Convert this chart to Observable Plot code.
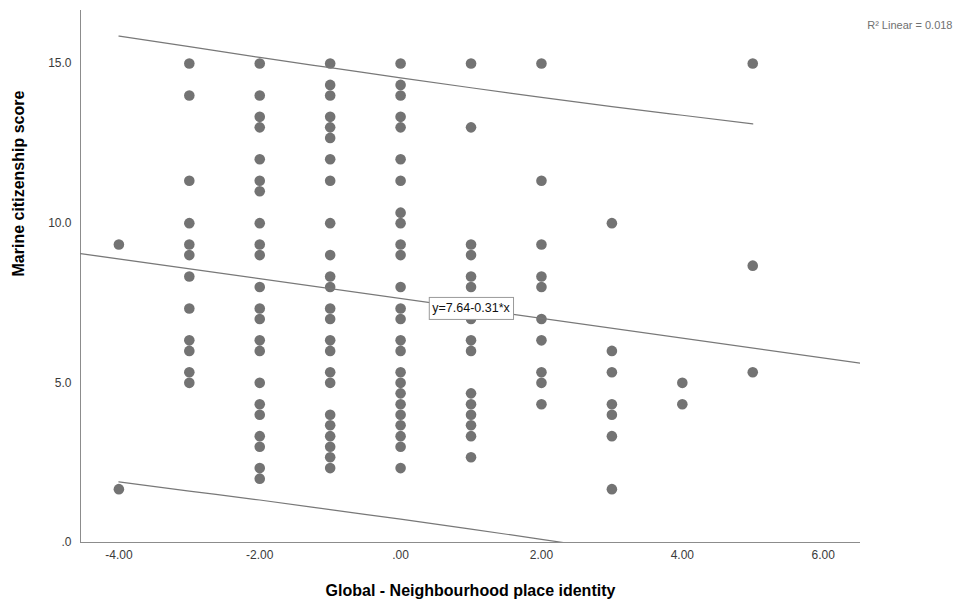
<!DOCTYPE html>
<html>
<head>
<meta charset="utf-8">
<script src="https://cdn.jsdelivr.net/npm/d3@7"></script>
<script src="https://cdn.jsdelivr.net/npm/@observablehq/plot@0.6"></script>
<style>
  body { margin: 0; background: #fff; }
  #chart svg { display: block; }
</style>
</head>
<body>
<div id="chart"></div>
<script>
// Global - Neighbourhood place identity (x) levels and the marine citizenship scores observed at each
const identityLevels = [-4, -3, -2, -1, 0, 1, 2, 3, 4, 5];
const scoresByLevel = [
  [9.33, 1.67],
  [15, 14, 11.33, 10, 9.33, 9, 8.33, 7.33, 6.33, 6, 5.33, 5],
  [15, 14, 13.33, 13, 12, 11.33, 11, 10, 9.33, 9, 8, 7.33, 7, 6.33, 6, 5, 4.33, 4, 3.33, 3, 2.33, 2],
  [15, 14.33, 14, 13.33, 13, 12.67, 12, 11.33, 10, 9, 8.33, 8, 7.33, 7, 6.33, 6, 5.33, 5, 4, 3.67, 3.33, 3, 2.67, 2.33],
  [15, 14.33, 14, 13.33, 13, 12, 11.33, 10.33, 10, 9.33, 9, 8, 7.33, 7, 6.33, 6, 5.33, 5, 4.67, 4.33, 4, 3.67, 3.33, 3, 2.33],
  [15, 13, 9.33, 9, 8.33, 8, 7.33, 7, 6.33, 6, 4.67, 4.33, 4, 3.67, 3.33, 2.67],
  [15, 11.33, 9.33, 8.33, 8, 7, 6.33, 5.33, 5, 4.33],
  [10, 6, 5.33, 4.33, 4, 3.33, 1.67],
  [5, 4.33],
  [15, 8.67, 5.33]
];

// Linear fit (as printed on the chart) and its R²
const fitIntercept = 7.64;
const fitSlope = -0.31;
const rSquared = "0.018";

// 95% prediction interval bounds, read at each identity level
const intervalX = [-4, -3, -2, -1, 0, 1, 2, 3, 4, 5];
const intervalUpper = [15.86, 15.53, 15.19, 14.87, 14.55, 14.24, 13.94, 13.65, 13.38, 13.11];
const intervalLower = [1.90, 1.61, 1.33, 1.03, 0.73, 0.42, 0.10, -0.23, -0.58, -0.93];

// Axis ticks
const xTicks = [-4, -2, 0, 2, 4, 6];
const yTicks = [0, 5, 10, 15];
const xDomain = [-4.545, 6.53];
const yDomain = [0, 16.66];

const points = identityLevels.flatMap((x, i) => scoresByLevel[i].map(y => ({x, y})));
const fitLine = xDomain.map(x => ({x, y: fitIntercept + fitSlope * x}));
const upperBand = intervalX.map((x, i) => ({x, y: intervalUpper[i]}));
const lowerBand = intervalX.map((x, i) => ({x, y: intervalLower[i]}));
const eqX = 1;
const equationText = `y=${fitIntercept}${fitSlope}*x`;
const equation = [{x: eqX, y: fitIntercept + fitSlope * eqX, label: equationText}];

const lineColor = "#787878";
const font = "'Liberation Sans', Arial, sans-serif";

const chart = Plot.plot({
  width: 968,
  height: 608,
  marginLeft: 80,
  marginRight: 108,
  marginTop: 10,
  marginBottom: 66,
  style: {fontFamily: font, fontSize: "12px", color: "#3a3a3a", background: "#fff"},
  x: {domain: xDomain},
  y: {domain: yDomain},
  marks: [
    Plot.axisX({ticks: xTicks, tickSize: 0, tickPadding: 8, label: null,
      tickFormat: d => d === 0 ? ".00" : d.toFixed(2)}),
    Plot.axisY({ticks: yTicks, tickSize: 0, tickPadding: 9, label: null,
      tickFormat: d => d === 0 ? ".0" : d.toFixed(1)}),
    Plot.ruleX([xDomain[0]], {stroke: "#8c8c8c", strokeWidth: 1}),
    Plot.ruleY([0], {stroke: "#8c8c8c", strokeWidth: 1}),
    Plot.dot(points, {x: "x", y: "y", r: 5.3, fill: "#737373", stroke: "none"}),
    Plot.line(upperBand, {x: "x", y: "y", stroke: lineColor, strokeWidth: 1.2, curve: "natural", clip: true}),
    Plot.line(lowerBand, {x: "x", y: "y", stroke: lineColor, strokeWidth: 1.2, curve: "natural", clip: true}),
    Plot.line(fitLine, {x: "x", y: "y", stroke: lineColor, strokeWidth: 1.2, clip: true}),
    Plot.text(equation, {x: "x", y: "y", text: "label", fontSize: 12.5, fill: "#111"}),
    Plot.text([`R² Linear = ${rSquared}`], {frameAnchor: "top-right", dx: 92, dy: 11,
      textAnchor: "end", fontSize: 11, fill: "#707070"}),
    Plot.text(["Marine citizenship score"], {frameAnchor: "left", dx: -62, rotate: -90,
      fontSize: 16, fontWeight: "bold", fill: "#000"}),
    Plot.text(["Global - Neighbourhood place identity"], {frameAnchor: "bottom", dy: 53,
      fontSize: 16, fontWeight: "bold", fill: "#000"})
  ]
});

document.getElementById("chart").appendChild(chart);

// White box with a gray border behind the fit equation
Array.from(chart.querySelectorAll("text"))
  .filter(t => t.textContent === equationText)
  .forEach(t => {
    const b = t.getBBox();
    const ctm = t.getAttribute("transform");
    const rect = document.createElementNS("http://www.w3.org/2000/svg", "rect");
    rect.setAttribute("x", b.x - 3);
    rect.setAttribute("y", b.y - 4);
    rect.setAttribute("width", b.width + 6);
    rect.setAttribute("height", b.height + 8);
    rect.setAttribute("fill", "#fff");
    rect.setAttribute("stroke", "#9a9a9a");
    rect.setAttribute("stroke-width", 1);
    if (ctm) rect.setAttribute("transform", ctm);
    t.parentNode.insertBefore(rect, t);
  });
</script>
</body>
</html>
